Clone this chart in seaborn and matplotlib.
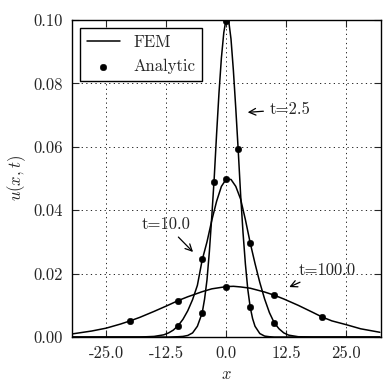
import numpy as np
import pandas as pd
import seaborn as sns
import matplotlib
matplotlib.use("Agg")
import matplotlib.pyplot as plt

# FEM curves
x_t2_5 = [-32, -12, -10, -9, -8, -7, -6, -5, -4.5, -4, -3.5, -3, -2.5, -2, -1.5, -1, -0.5,
          0, 0.5, 1, 1.5, 2, 2.5, 3, 3.5, 4, 4.5, 5, 5.5, 6, 7, 8, 9, 10, 12, 32]
u_t2_5 = [0, 0, 0.0001, 0.0002, 0.0005, 0.0013, 0.0034, 0.0076, 0.012, 0.018, 0.027, 0.038, 0.050,
          0.064, 0.077, 0.088, 0.096, 0.1005, 0.1000, 0.094, 0.084, 0.072, 0.059, 0.045, 0.033,
          0.023, 0.015, 0.0094, 0.0058, 0.0034, 0.0011, 0.0003, 0.0001, 0, 0, 0]

x_t10 = [-32, -18, -15, -13, -12, -11, -10, -9, -8, -7, -6, -5, -4, -3, -2, -1, 0,
         1, 2, 3, 4, 5, 6, 7, 8, 9, 10, 11, 12, 13, 15, 18, 32]
u_t10 = [0, 0, 0.0002, 0.0007, 0.0013, 0.0022, 0.0036, 0.0056, 0.0083, 0.0118, 0.0163, 0.0243,
         0.0300, 0.0368, 0.0428, 0.0475, 0.0498, 0.0497, 0.0475, 0.0435, 0.0370, 0.0297, 0.0232,
         0.0172, 0.0120, 0.0077, 0.0045, 0.0026, 0.0013, 0.0006, 0.0001, 0, 0]

x_t100 = [-32, -28, -25, -22, -20, -18, -15, -12, -10, -8, -5, -3, 0, 1.5, 3, 5, 8,
          10, 12, 15, 18, 20, 22, 25, 28, 32]
u_t100 = [0.0010, 0.0019, 0.0028, 0.0041, 0.0051, 0.0062, 0.0081, 0.0101, 0.0115, 0.0127, 0.0143,
          0.0152, 0.0159, 0.0160, 0.0158, 0.0154, 0.0142, 0.0132, 0.0120, 0.0100, 0.0078, 0.0063,
          0.0051, 0.0039, 0.0026, 0.0015]

# analytic points
xa_t2_5 = [-5, -2.5, 0, 2.5, 5]
ua_t2_5 = [0.0075, 0.049, 0.0998, 0.0593, 0.0096]
xa_t10 = [-10, -5, 0, 5, 10]
ua_t10 = [0.0036, 0.0245, 0.0498, 0.0297, 0.0045]
xa_t100 = [-20, -10, 0, 10, 20]
ua_t100 = [0.0051, 0.0115, 0.0159, 0.0132, 0.0063]

times = [2.5, 10.0, 100.0]

fem = pd.concat([
    pd.DataFrame({"x": x_t2_5, "u": u_t2_5, "t": 2.5}),
    pd.DataFrame({"x": x_t10, "u": u_t10, "t": 10.0}),
    pd.DataFrame({"x": x_t100, "u": u_t100, "t": 100.0}),
])
ana = pd.concat([
    pd.DataFrame({"x": xa_t2_5, "u": ua_t2_5, "t": 2.5}),
    pd.DataFrame({"x": xa_t10, "u": ua_t10, "t": 10.0}),
    pd.DataFrame({"x": xa_t100, "u": ua_t100, "t": 100.0}),
])

sns.set_style("ticks")
plt.rcParams["font.family"] = ["cmr10", "DejaVu Serif"]
plt.rcParams["mathtext.fontset"] = "cm"
plt.rcParams["axes.unicode_minus"] = False
plt.rcParams["font.size"] = 12

fig = plt.figure(figsize=(3.91, 3.91), dpi=100)
ax = fig.add_subplot(111)
fig.subplots_adjust(left=0.183, right=0.974, bottom=0.138, top=0.949)

for i, t in enumerate(times):
    d = fem[fem["t"] == t]
    sns.lineplot(x=d["x"].values, y=d["u"].values, color="k", lw=1.1, ax=ax,
                 label="FEM" if i == 0 else None, sort=False)
for i, t in enumerate(times):
    d = ana[ana["t"] == t]
    sns.scatterplot(x=d["x"].values, y=d["u"].values, color="k", s=22, edgecolor="k",
                    ax=ax, label="Analytic" if i == 0 else None, zorder=3)

ax.set_xlim(-32.2, 32.2)
ax.set_ylim(0, 0.1)
ax.set_xticks([-25, -12.5, 0, 12.5, 25])
ax.set_xticklabels(["%.1f" % v for v in [-25, -12.5, 0, 12.5, 25]])
ax.set_yticks([0, 0.02, 0.04, 0.06, 0.08, 0.1])
ax.set_yticklabels(["%.2f" % v for v in [0, 0.02, 0.04, 0.06, 0.08, 0.1]])
ax.tick_params(direction="in", top=True, right=True, length=5, width=0.8, labelsize=12, pad=6)
ax.grid(True, color="k", linestyle=(0, (1.5, 4)), linewidth=0.6)
ax.set_axisbelow(True)
for s in ax.spines.values():
    s.set_linewidth(1.0)
    s.set_color("k")

ax.set_xlabel("$x$", fontsize=12)
ax.set_ylabel("$u(x,t)$", fontsize=12)

arrow = dict(arrowstyle="->", color="k", lw=0.9)
ax.annotate("t=2.5", xy=(3.9, 0.0708), xytext=(9.0, 0.0718), ha="left", va="center",
            fontsize=12, arrowprops=arrow)
ax.annotate("t=10.0", xy=(-6.5, 0.0262), xytext=(-12.6, 0.0356), ha="center", va="center",
            fontsize=12, arrowprops=arrow)
ax.annotate("t=100.0", xy=(12.6, 0.0154), xytext=(15.0, 0.0211), ha="left", va="center",
            fontsize=12, arrowprops=arrow)

leg = ax.legend(loc="upper left", frameon=True, fancybox=False, edgecolor="k",
                framealpha=1, handlelength=2.0, scatterpoints=1)
leg.get_frame().set_linewidth(1.0)

fig.savefig("out.png", dpi=100)
